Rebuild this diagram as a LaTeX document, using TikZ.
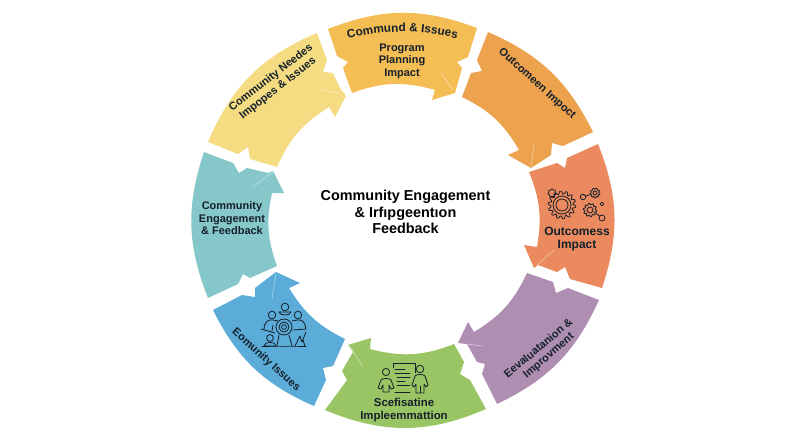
\documentclass[tikz,border=0pt]{standalone}
\usepackage{fontspec}
\setmainfont{Liberation Sans}
\usetikzlibrary{decorations.text}
\definecolor{cYellow}{HTML}{F5DC82}
\definecolor{cTop}{HTML}{F4BE55}
\definecolor{cOrange}{HTML}{EDA24D}
\definecolor{cCoral}{HTML}{EA8A5E}
\definecolor{cPurple}{HTML}{AE8FB2}
\definecolor{cGreen}{HTML}{9AC565}
\definecolor{cBlue}{HTML}{5BACD8}
\definecolor{cTeal}{HTML}{86C7C9}
\definecolor{cInk}{HTML}{15202B}
\newcommand{\mycog}[4]{%
  \draw[ico] plot[samples=\numexpr 8*#4+1\relax,domain=0:360,variable=\t]
    ({#1+(#3+.11*#3*min(1,max(-1,3*sin(#4*\t))))*cos(\t)},{#2+(#3+.11*#3*min(1,max(-1,3*sin(#4*\t))))*sin(\t)}) -- cycle;}
\tikzset{
  seg/.style={draw=none,fill=#1},
  glint/.style={draw=white,opacity=.45,line width=.7pt},
  lab/.style={font=\fontsize{11}{12.5}\selectfont\bfseries,text=cInk,align=center,inner sep=0pt},
  labbig/.style={font=\fontsize{12}{13}\selectfont\bfseries,text=cInk,align=center,inner sep=0pt},
  labgreen/.style={font=\fontsize{11.4}{13}\selectfont\bfseries,text=cInk,align=center,inner sep=0pt},
  title/.style={font=\fontsize{14.4}{16.5}\selectfont\bfseries,text=black,align=center,inner sep=0pt},
  ico/.style={draw=cInk,line width=.8pt,fill=none,line join=round,line cap=round}
}
\begin{document}
\begin{tikzpicture}[x=1pt,y=-1pt]
\useasboundingbox (0,0) rectangle (800,437);
\fill[white] (0,0) rectangle (800,437);
% segments
\fill[seg=cYellow] (208,142) to[bend left=22] (317,33) -- (327,60) -- (323,72) -- (333,73) -- (340,88) -- (346,96) -- (335,117) -- (329,107) to[bend right=17] (277,167) -- (250,159) -- (248,147) -- (238,154) -- cycle;
\fill[seg=cTop] (328,29) to[bend left=21] (477,28) -- (468,57) -- (457,62) -- (462,68) -- (455,93) -- (432,100) -- (435,90) to[bend right=18] (352,93) -- (343,68) -- (348,62) -- (337,56) -- cycle;
\fill[seg=cOrange] (488,32) to[bend left=20] (593,132) -- (563,146) -- (552,143) -- (551,155) -- (531,168) -- (508,155) -- (519,150) to[bend right=17] (462,97) -- (471,73) -- (482,71) -- (477,60) -- cycle;
\fill[seg=cCoral] (598,144) to[bend left=20] (602,288) -- (570,279) -- (565,267) -- (557,272) -- (538,265) -- (534,268) -- (524,245) -- (537,247) to[bend right=16] (529,172) -- (557,163) -- (565,168) -- (567,158) -- cycle;
\fill[seg=cPurple] (527,273) -- (553,282) -- (556,293) -- (568,288) -- (599,300) to[bend left=20] (497,404) -- (482,374) -- (485,364) -- (477,362) -- (467,344) -- (458,343) -- (468,322) -- (474,332) to[bend right=17] cycle;
\fill[seg=cGreen] (454,344) -- (464,362) -- (460,374) -- (470,380) -- (486,409) to[bend left=23] (325,410) -- (347,380) -- (342,371) -- (353,352) -- (348,345) -- (371,338) -- (370,349) to[bend right=18] cycle;
\fill[seg=cBlue] (213,310) -- (242,295) -- (255,297) -- (255,288) -- (276,272) -- (300,283) -- (289,288) to[bend right=16] (345,339) -- (333,366) -- (323,368) -- (326,380) -- (314,406) to[bend left=20] cycle;
\fill[seg=cTeal] (204,152) -- (233,163) -- (239,173) -- (247,168) -- (268,173) -- (273,171) -- (284,193) -- (272,193) to[bend right=16] (277,266) -- (250,278) -- (243,274) -- (238,284) -- (208,298) to[bend left=20] cycle;
% glints
\draw[glint] (320,90) -- (340,93);
\draw[glint] (441,73) -- (453,90);
\draw[glint] (534,145) -- (531,167);
\draw[glint] (554,250) -- (537,265);
\draw[glint] (467,344) -- (483,346);
\draw[glint] (349,345) -- (363,367);
\draw[glint] (276,274) -- (272,299);
\draw[glint] (273,172) -- (253,187);
% labels
\node[title] (center) at (405.5,212) {Community Engagement\\\& Irfıpgeentıon\\Feedback};
\path[postaction={decorate},decoration={text along path,text align=center,
  text={|\fontsize{11.8}{12}\selectfont\bfseries\color{cInk}|Commund {\&} Issues}}]
  (335,42) to[bend left=15] (470,42);
\node[lab] (topl) at (402,61) {Program\\Planning\\Impact};
\node[lab,rotate=38] (yel1) at (271,78) {Community Needes};
\node[lab,rotate=38] (yel2) at (278,88.5) {Impopes \& Issues};
\node[lab,rotate=-42] (ora) at (537,84) {Outcomeen Impoct};
\node[labbig] (coral) at (577,239) {Outcomess\\Impact};
\node[lab,rotate=40] (pur1) at (538,348) {Eevaluatanion \&};
\node[lab,rotate=41] (pur2) at (549,356) {Improvment};
\node[labgreen] (gre) at (404,410) {Scefisatine\\Impleemmattion};
\node[lab,rotate=-42] (blu) at (266,360) {Eomunity Issues};
\node[lab] (tea) at (232,218.5) {Community\\Engagement\\\& Feedback};
% gears
\mycog{562}{205}{12.5}{14}
\draw[ico] (562,205) circle (9) (562,205) circle (6);
\mycog{552}{193}{3.6}{7}
\mycog{595}{193}{4.4}{9}
\draw[ico] (595,193) circle (2);
\draw[ico] (583,197) circle (2.7);
\draw[ico] (585.5,196) -- (590.8,194.5);
\mycog{590}{210}{6}{10}
\draw[ico] (590,210) circle (3);
\draw[ico] (602,204) circle (1.9);
\draw[ico] (602,218) circle (3);
\draw[ico] (595.5,213) -- (599.5,216);
% people and target icon
\draw[ico] (284,327) circle (8) (284,327) circle (5) (284,327) circle (2.4);
\draw[ico] (285,307) circle (3.8) (272,315) circle (3.8) (298,315) circle (3.8) (270,338) circle (3.4);
\draw[ico] (279,312) -- (291,312) (279,312) .. controls (279,316) and (291,316) .. (291,312);
\draw[ico] (275,333) -- (261,329);
\draw[ico] (264,330) .. controls (264,322) and (268,319) .. (273,320) -- (278,321);
\draw[ico] (272,331) -- (273,325);
\draw[ico] (292,321) -- (297,320) .. controls (303,319) and (305,323) .. (306,329) -- (293,330);
\draw[ico] (264,346) .. controls (264,341) and (276,341) .. (276,346) -- cycle;
\draw[ico] (262,346) -- (277,346) -- (292,346) -- (306,346);
\draw[ico] (279,335) -- (277,346) (289,335) -- (292,346);
\draw[ico] (295,346) -- (300,336) -- (302,342) -- (306,332) (305,346) -- (303,340);
% document and two people icon
\draw[ico] (393,368) -- (393,363) -- (415,363) -- (415,373);
\draw[ico] (395,369) -- (405,369) (395,373) -- (410,373) (397,377) -- (410,377) (397,381) -- (405,381) (397,385) -- (410,385);
\draw[ico] (395,392) -- (410,392);
\draw[ico] (386,372) circle (3.6) (420,369) circle (3.8);
\draw[ico] (383,392) -- (383,385) -- (381,389) -- (378,388) -- (381,380) .. controls (382,378) and (390,378) .. (391,380) -- (394,388) -- (391,389) -- (389,385) -- (389,392) (383,392) -- (389,392);
\draw[ico] (416,393) -- (416,384) -- (414,387) -- (412,385) -- (415,376) .. controls (416,374) and (424,374) .. (425,376) -- (428,385) -- (426,387) -- (424,384) -- (424,393) -- (420.5,393) -- (420.5,386) (420.5,393) -- (416,393);
\end{tikzpicture}
\end{document}
